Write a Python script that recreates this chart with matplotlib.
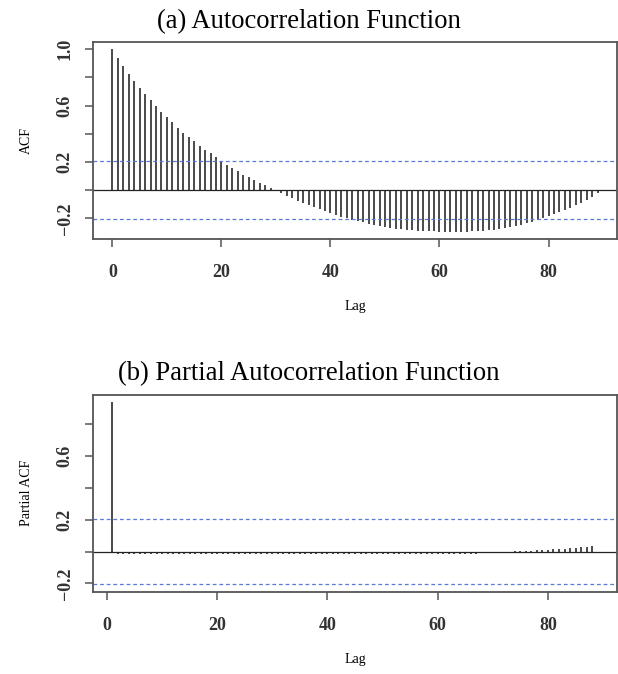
import numpy as np
import matplotlib
matplotlib.use('Agg')
import matplotlib.pyplot as plt

plt.rcParams['font.family'] = ['Liberation Serif', 'DejaVu Serif']

# sample autocorrelations, lags 0..89
acf_lags = list(range(0, 90))
acf_vals = [1.000, 0.937, 0.884, 0.828, 0.777, 0.728, 0.686, 0.640, 0.595, 0.558,
            0.519, 0.481, 0.444, 0.409, 0.379, 0.347, 0.315, 0.286, 0.262, 0.235,
            0.210, 0.180, 0.156, 0.133, 0.111, 0.090, 0.070, 0.051, 0.034, 0.017,
            0.002, -0.020, -0.040, -0.058, -0.075, -0.092, -0.106, -0.120, -0.136, -0.150,
            -0.163, -0.176, -0.188, -0.199, -0.210, -0.220, -0.229, -0.238, -0.246, -0.254,
            -0.261, -0.267, -0.273, -0.278, -0.282, -0.285, -0.288, -0.290, -0.292, -0.293,
            -0.294, -0.295, -0.295, -0.295, -0.295, -0.294, -0.293, -0.291, -0.288, -0.285,
            -0.281, -0.276, -0.270, -0.263, -0.255, -0.246, -0.236, -0.225, -0.213, -0.200,
            -0.186, -0.171, -0.156, -0.140, -0.124, -0.107, -0.089, -0.070, -0.048, -0.023]

# partial autocorrelations, lags 1..89
pacf_vals = ([0.940] + [-0.016] * 66 + [-0.008, -0.006, -0.004, -0.002, -0.001, 0.0, 0.002, 0.003,
             0.004, 0.005, 0.007, 0.009, 0.011, 0.013, 0.016, 0.019, 0.022, 0.025, 0.028,
             0.030, 0.034, -0.005])
pacf_lags = list(range(1, 90))

clim = 0.205  # approx. 95% bound

titles = ['(a) Autocorrelation Function', '(b) Partial Autocorrelation Function']
ylabels = ['ACF', 'Partial ACF']

fig = plt.figure(figsize=(6.18, 6.74), dpi=100)
ax1 = fig.add_axes([93 / 618, 1 - 239 / 674, 524 / 618, 197 / 674])
ax2 = fig.add_axes([93 / 618, 1 - 591.5 / 674, 524 / 618, 197 / 674])

boxcol = '#555555'
for ax, lags, vals, ttl, ylab, ytk, ylb, ytop in [
        (ax1, acf_lags, acf_vals, titles[0], ylabels[0],
         [-0.2, 0.0, 0.2, 0.4, 0.6, 0.8, 1.0], ['\u22120.2', '', '0.2', '', '0.6', '', '1.0'], 42),
        (ax2, pacf_lags, pacf_vals, titles[1], ylabels[1],
         [-0.2, 0.0, 0.2, 0.4, 0.6, 0.8], ['\u22120.2', '', '0.2', '', '0.6', ''], 394)]:
    ax.vlines(lags, 0, vals, color='#4a4a4a', lw=1.4)
    ax.axhline(0, color='#222222', lw=0.9)
    for c in (clim, -clim):
        ax.axhline(c, color='#5a78d6', lw=0.9, ls=(0, (3, 2.3)))
    # R style limits: 4% extension of the data range
    lo = min(min(vals), -clim)
    hi = max(max(vals), clim)
    r = hi - lo
    ax.set_ylim(lo - 0.04 * r, hi + 0.04 * r)
    xr = lags[-1] - lags[0]
    ax.set_xlim(lags[0] - 0.04 * xr, lags[-1] + 0.04 * xr)
    ax.set_xticks([0, 20, 40, 60, 80])
    ax.set_yticks(ytk)
    ax.set_yticklabels(ylb, rotation=90, va='center')
    ax.tick_params(direction='out', length=6, width=1.1, color=boxcol, labelsize=13)
    ax.tick_params(axis='x', pad=12)
    ax.tick_params(axis='y', pad=8)
    for lab in ax.get_xticklabels() + ax.get_yticklabels():
        lab.set_fontweight('bold')
        lab.set_color('#333333')
    for s in ax.spines.values():
        s.set_color(boxcol)
        s.set_linewidth(1.3)
    ax.set_xlabel('Lag', fontsize=10, labelpad=14)
    ax.set_ylabel(ylab, fontsize=10, labelpad=17)
    fig.text(0.5, 1 - (ytop - 14) / 674, ttl, ha='center', va='baseline', fontsize=19.2)

fig.savefig('out.png', dpi=100)
